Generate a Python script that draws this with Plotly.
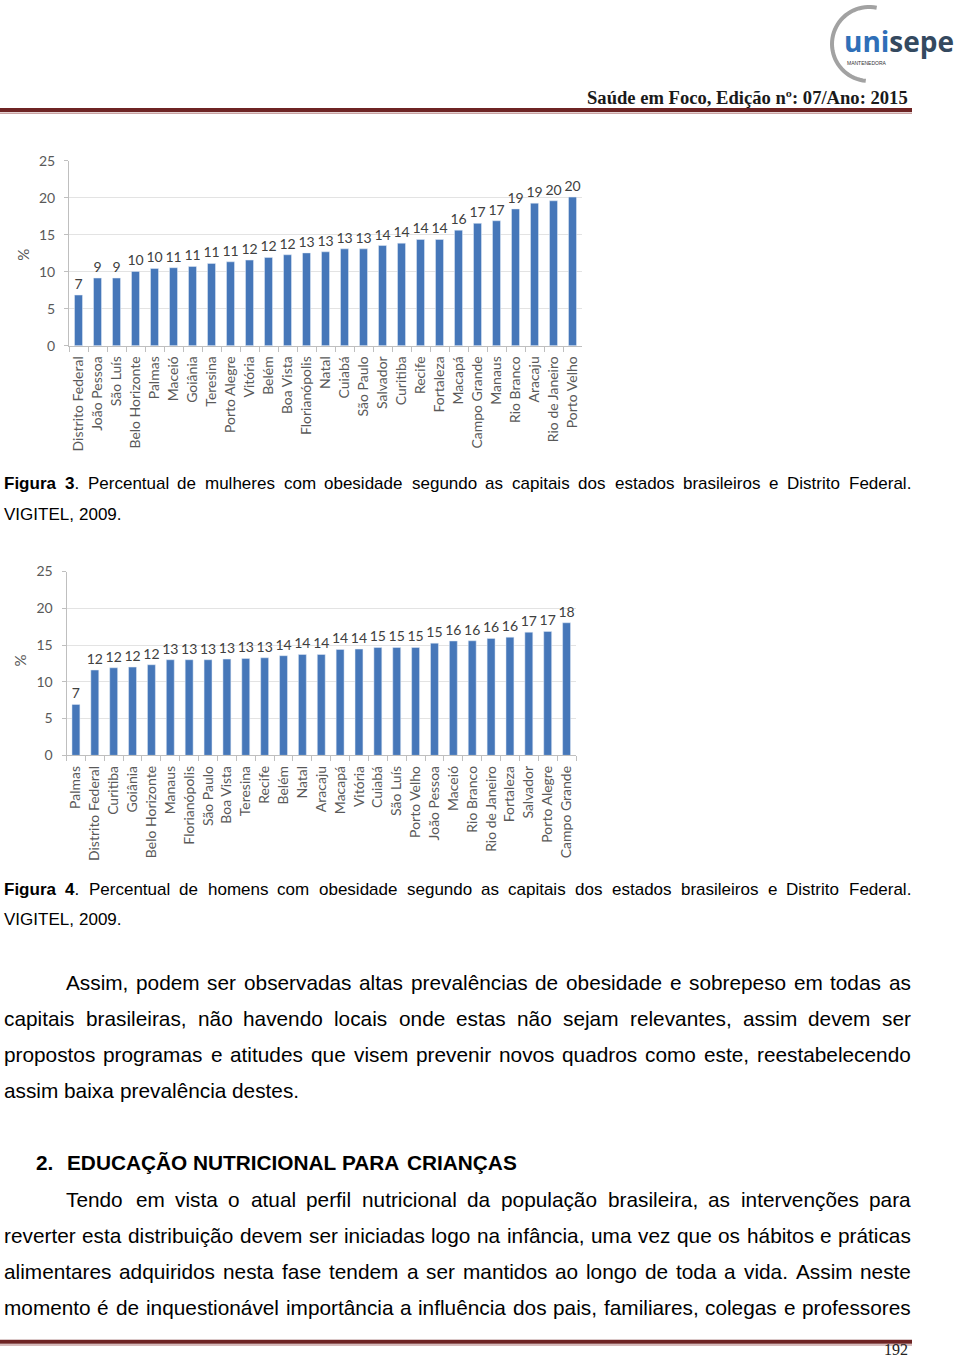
import math
import plotly.graph_objects as go

W, H = 960, 1367

# ---------------- DATA ----------------
cities_f = ["Distrito Federal", "João Pessoa", "São Luís", "Belo Horizonte", "Palmas", "Maceió",
            "Goiânia", "Teresina", "Porto Alegre", "Vitória", "Belém", "Boa Vista", "Florianópolis",
            "Natal", "Cuiabá", "São Paulo", "Salvador", "Curitiba", "Recife", "Fortaleza", "Macapá",
            "Campo Grande", "Manaus", "Rio Branco", "Aracaju", "Rio de Janeiro", "Porto Velho"]
pct_f = [6.85, 9.15, 9.15, 10.05, 10.45, 10.55, 10.72, 11.13, 11.35, 11.58, 11.94, 12.3, 12.55,
         12.7, 13.1, 13.1, 13.55, 13.87, 14.37, 14.37, 15.63, 16.55, 16.9, 18.5, 19.28, 19.6, 20.1]

cities_m = ["Palmas", "Distrito Federal", "Curitiba", "Goiânia", "Belo Horizonte", "Manaus",
            "Florianópolis", "São Paulo", "Boa Vista", "Teresina", "Recife", "Belém", "Natal",
            "Aracaju", "Macapá", "Vitória", "Cuiabá", "São Luís", "Porto Velho", "João Pessoa",
            "Maceió", "Rio Branco", "Rio de Janeiro", "Fortaleza", "Salvador", "Porto Alegre",
            "Campo Grande"]
pct_m = [6.93, 11.6, 11.91, 12.0, 12.32, 13.0, 13.0, 13.0, 13.09, 13.18, 13.27, 13.55, 13.72,
         13.72, 14.4, 14.45, 14.67, 14.67, 14.67, 15.26, 15.55, 15.58, 15.9, 16.07, 16.75, 16.85, 18.03]

y_ticks = [0, 5, 10, 15, 20, 25]

caption1 = "Figura 3. Percentual de mulheres com obesidade segundo as capitais dos estados brasileiros e Distrito Federal."
caption2 = "Figura 4. Percentual de homens com obesidade segundo as capitais dos estados brasileiros e Distrito Federal."
para1 = ["Assim, podem ser observadas altas prevalências de obesidade e sobrepeso em todas as",
         "capitais brasileiras, não havendo locais onde estas não sejam relevantes, assim devem ser",
         "propostos programas e atitudes que visem prevenir novos quadros como este, reestabelecendo",
         "assim baixa prevalência destes."]
heading_num = "2."
heading = "EDUCAÇÃO NUTRICIONAL PARA CRIANÇAS"
para2 = ["Tendo em vista o atual perfil nutricional da população brasileira, as intervenções para",
         "reverter esta distribuição devem ser iniciadas logo na infância, uma vez que os hábitos e práticas",
         "alimentares adquiridos nesta fase tendem a ser mantidos ao longo de toda a vida. Assim neste",
         "momento é de inquestionável importância a influência dos pais, familiares, colegas e professores"]
header_text = "Saúde em Foco, Edição nº: 07/Ano: 2015"
page_no = "192"

# ---------------- helpers ----------------
# the page is photographed with a small vertical offset/squash; compensate
VOFF, VSCALE = 8.0, 1367 / 1383


def PX(x):
    return x / W


def PY(y):
    yin = (y - VOFF) / VSCALE
    return 1 - yin / H


REG = dict(a=556, b=556, c=500, d=556, e=556, f=278, g=556, h=556, i=222, j=222, k=500, l=222,
           m=833, n=556, o=556, p=556, q=556, r=333, s=500, t=278, u=556, v=500, w=722, x=500,
           y=500, z=500, A=667, B=667, C=722, D=722, E=667, F=611, G=778, H=722, I=278, J=500,
           K=667, L=556, M=833, N=722, O=778, P=667, Q=778, R=722, S=667, T=611, U=722, V=667,
           W=944, X=667, Y=667, Z=611)
REG.update({" ": 278, ",": 278, ".": 278, ":": 278, ";": 278, "-": 333, "/": 278,
            "ç": 500, "ã": 556, "á": 556, "â": 556, "à": 556, "é": 556, "ê": 556, "í": 278,
            "ó": 556, "õ": 556, "ô": 556, "ú": 556, "Ç": 722, "Ã": 667})
BOLD = dict(a=556, b=611, c=556, d=611, e=556, f=333, g=611, h=611, i=278, j=278, k=556, l=278,
            m=889, n=611, o=611, p=611, q=611, r=389, s=556, t=333, u=611, v=556, w=778, x=556,
            y=556, z=500, A=722, B=722, C=722, D=722, E=667, F=611, G=778, H=722, I=278, J=556,
            K=722, L=611, M=833, N=722, O=778, P=667, Q=778, R=722, S=667, T=611, U=722, V=667,
            W=944, X=667, Y=667, Z=611)
BOLD.update({" ": 278, ",": 278, ".": 278, ":": 333, "Ç": 722, "Ã": 722, "ç": 556, "ã": 556})


def text_w(segs, size):
    tot = 0
    for txt, b in segs:
        tab = BOLD if b else REG
        tot += sum(tab.get(ch, 556) for ch in txt)
    return tot / 1000 * size


def seg_html(segs):
    return "".join(f"<b>{t}</b>" if b else t for t, b in segs)


annotations = []
FONT_TXT = "Liberation Sans, Arial, sans-serif"


def place_line(words, x0, x1, y, size, justify=True):
    """words: list of list of (text, bold) segments"""
    widths = [text_w(w, size) for w in words]
    if justify and len(words) > 1:
        gap = (x1 - x0 - sum(widths)) / (len(words) - 1)
        gap = max(gap, 0.2 * size)
    else:
        gap = 0.278 * size
    x = x0
    for w, wd in zip(words, widths):
        annotations.append(dict(x=PX(x), y=PY(y), xref="paper", yref="paper", xanchor="left",
                                yanchor="middle", showarrow=False, borderpad=0,
                                text=seg_html(w),
                                font=dict(family=FONT_TXT, size=size, color="#000000")))
        x += wd + gap


def plain_words(line):
    return [[(w, False)] for w in line.split(" ")]


def caption_words(line):
    ws = line.split(" ")
    out = [[(ws[0], True)], [(ws[1][:-1], True), (".", False)]]
    out += [[(w, False)] for w in ws[2:]]
    return out


# ---------------- figure ----------------
fig = go.Figure()
BAR = "#4677b9"
LBL = dict(family="Lato, sans-serif", size=14, color="#595959")

for cats, vals, xa, ya in [(cities_f, pct_f, "x", "y"), (cities_m, pct_m, "x2", "y2")]:
    fig.add_trace(go.Bar(x=cats, y=vals, xaxis=xa, yaxis=ya, marker_color=BAR,
                         texttemplate="%{y:.0f}", textposition="outside", cliponaxis=False,
                         constraintext="none",
                         textfont=dict(family="Lato, sans-serif", size=14, color="#404040"),
                         hoverinfo="skip"))

xcommon = dict(type="category", tickangle=-90, tickfont=LBL, ticks="outside", tickson="boundaries",
               ticklen=5, tickcolor="#bfbfbf", showline=True, linecolor="#bfbfbf", showgrid=False,
               fixedrange=True, ticklabelstandoff=4)
ycommon = dict(range=[0, 25], tickvals=y_ticks, tickfont=LBL, gridcolor="#e3e3e3", showline=True,
               linecolor="#bfbfbf", ticks="outside", ticklen=4, tickcolor="#bfbfbf", zeroline=False,
               fixedrange=True, ticklabelstandoff=6)

fig.update_layout(
    width=W, height=H, margin=dict(l=0, r=0, t=0, b=0),
    paper_bgcolor="white", plot_bgcolor="white", showlegend=False, bargap=0.58,
    xaxis=dict(domain=[PX(69), PX(582)], anchor="y", **xcommon),
    yaxis=dict(domain=[PY(345), PY(160)], anchor="x", **ycommon),
    xaxis2=dict(domain=[PX(66.5), PX(576)], anchor="y2", **xcommon),
    yaxis2=dict(domain=[PY(755), PY(571)], anchor="x2", **ycommon),
)

# % axis titles
for (xx, yy) in [(12, 246), (9, 660)]:
    annotations.append(dict(x=PX(xx), y=PY(yy), xref="paper", yref="paper", text="%",
                            textangle=-90, showarrow=False,
                            font=dict(family="Lato, sans-serif", size=15, color="#595959")))

# captions
CAP = 17
place_line(caption_words(caption1), 3, 910, 483, CAP)
place_line(plain_words("VIGITEL, 2009."), 3, 910, 514, CAP, justify=False)
place_line(caption_words(caption2), 3, 910, 889, CAP)
place_line(plain_words("VIGITEL, 2009."), 3, 910, 919, CAP, justify=False)

# body
BODY = 20.8
ys1 = [982, 1018, 1054, 1090]
for i, line in enumerate(para1):
    x0 = 65 if i == 0 else 3
    place_line(plain_words(line), x0, 910, ys1[i], BODY, justify=(i < len(para1) - 1))

place_line([[(heading_num, True)]], 35, 910, 1163, BODY, justify=False)
place_line([[(w, True)] for w in heading.split(" ")], 66, 910, 1163, BODY, justify=False)

ys2 = [1200, 1236, 1272, 1308]
for i, line in enumerate(para2):
    x0 = 65 if i == 0 else 3
    place_line(plain_words(line), x0, 910, ys2[i], BODY, justify=True)

# header
annotations.append(dict(x=PX(910), y=PY(97), xref="paper", yref="paper", xanchor="right",
                        yanchor="middle", showarrow=False, text=f"<b>{header_text}</b>",
                        font=dict(family="Liberation Serif, serif", size=18.6, color="#1a1a1a")))
# page number, kept inside the drawable bottom edge
annotations.append(dict(x=PX(896), y=0, xref="paper", yref="paper", xanchor="center",
                        yanchor="bottom", showarrow=False, borderpad=0, text=page_no,
                        font=dict(family="Liberation Serif, serif", size=16, color="#222222")))

# logo text
annotations.append(dict(x=PX(955), y=PY(40), xref="paper", yref="paper", xanchor="right",
                        yanchor="middle", showarrow=False, borderpad=0,
                        text="<b><span style='color:#2f6fb8'>uni</span><span style='color:#34495f'>sepe</span></b>",
                        font=dict(family="Open Sans, sans-serif", size=28)))
annotations.append(dict(x=PX(867), y=PY(62), xref="paper", yref="paper", xanchor="center",
                        yanchor="middle", showarrow=False, borderpad=0, text="MANTENEDORA",
                        font=dict(family="Liberation Sans, sans-serif", size=5, color="#333333")))

shapes = []
# logo arc
cx, cy, r = 869, 43, 37
pts = []
for k in range(0, 41):
    a = math.radians(78 + k * (265 - 78) / 40)
    pts.append((PX(cx + r * math.cos(a)), PY(cy - r * math.sin(a))))
path = "M " + " L ".join(f"{x:.5f},{y:.5f}" for x, y in pts)
shapes.append(dict(type="path", path=path, xref="paper", yref="paper",
                   line=dict(color="#a2a2a2", width=4)))

# header / footer rules
for ytop in (107, 1340):
    shapes.append(dict(type="rect", xref="paper", yref="paper", x0=PX(0), x1=PX(912),
                       y0=PY(ytop + 4), y1=PY(ytop), fillcolor="#6e2424", line=dict(width=0)))
    shapes.append(dict(type="rect", xref="paper", yref="paper", x0=PX(0), x1=PX(912),
                       y0=PY(ytop + 6), y1=PY(ytop + 4.5), fillcolor="#c9a3a3", line=dict(width=0)))

fig.update_layout(annotations=annotations, shapes=shapes)
fig.write_html("out.html", config={"displayModeBar": False})
